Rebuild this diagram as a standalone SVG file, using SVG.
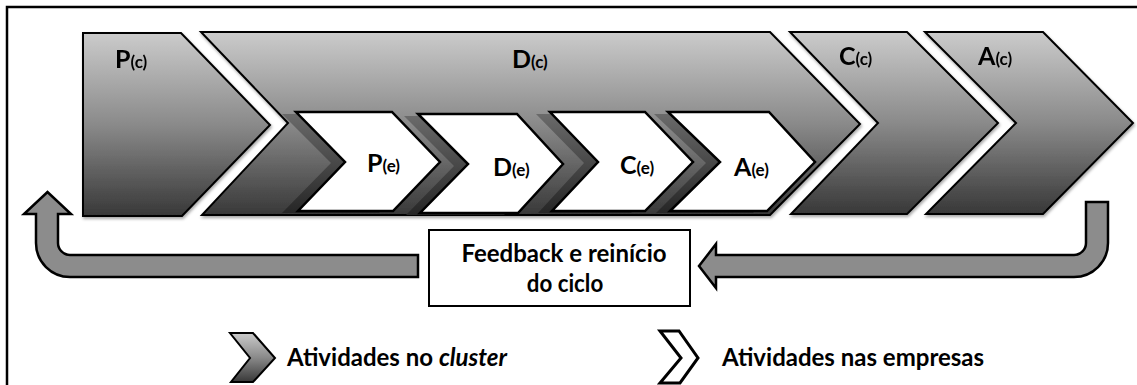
<svg xmlns="http://www.w3.org/2000/svg" width="1137" height="385" viewBox="0 0 1137 385">
  <defs>
    <linearGradient id="gray" x1="0" y1="0" x2="0" y2="1">
      <stop offset="0" stop-color="#cbcbcb"/>
      <stop offset="0.5" stop-color="#8a8a8a"/>
      <stop offset="1" stop-color="#383838"/>
    </linearGradient>
    <linearGradient id="band" x1="0" y1="0" x2="0" y2="1">
      <stop offset="0" stop-color="#6a6a6a"/>
      <stop offset="1" stop-color="#262626"/>
    </linearGradient>
    <filter id="soft" x="-5%" y="-5%" width="115%" height="120%">
      <feDropShadow dx="1" dy="2" stdDeviation="1.5" flood-color="#000" flood-opacity="0.35"/>
    </filter>
    <style>
      .big { fill: url(#gray); stroke: #000; stroke-width: 2; stroke-linejoin: miter; }
      .shadow { fill: url(#band); stroke: none; }
      .inner { fill: #fff; stroke: #000; stroke-width: 2.5; }
      .arrow { fill: #8c8c8c; stroke: #000; stroke-width: 2.5; stroke-linejoin: miter; }
      .frame { fill: none; stroke: #000; stroke-width: 2.5; }
      text { font-family: "Lato", "Liberation Sans", Arial, sans-serif; font-weight: 700; fill: #000; }
      .L { font-size: 25px; }
      .s { font-size: 17px; }
      .t { font-size: 24px; }
    </style>
  </defs>

  <rect width="1137" height="385" fill="#fff"/>
  <path class="frame" d="M 7 385 L 7 7 L 1137 7"/>

  <g id="P_c" filter="url(#soft)">
    <polygon class="big" points="83,33 181,33 270,125 182,216 83,216"/>
    <text x="115" y="68"><tspan class="L">P</tspan><tspan class="s">(c)</tspan></text>
  </g>

  <g id="D_c">
    <polygon class="big" filter="url(#soft)" points="201,32 770,32 860,124 770,215 202,215 288,123"/>
    <text x="512" y="68"><tspan class="L">D</tspan><tspan class="s">(c)</tspan></text>
    <g id="P_e">
      <polygon class="shadow" points="282,114 379,114 427,163 379,213 282,213 331,163"/>
      <polygon class="inner" points="296,112 392,112 440,162 393,211 298,211 345,162"/>
      <text x="367" y="172"><tspan class="L">P</tspan><tspan class="s">(e)</tspan></text>
    </g>
    <g id="D_e">
      <polygon class="shadow" points="404,116 503,116 549,166 504,215 406,215 454,166"/>
      <polygon class="inner" points="418,114 517,114 563,164 518,213 420,213 468,164"/>
      <text x="493" y="176"><tspan class="L">D</tspan><tspan class="s">(e)</tspan></text>
    </g>
    <g id="C_e">
      <polygon class="shadow" points="536,114 631,114 679,163 631,213 538,213 584,163"/>
      <polygon class="inner" points="550,112 645,112 693,162 645,211 552,211 598,162"/>
      <text x="620" y="174"><tspan class="L">C</tspan><tspan class="s">(e)</tspan></text>
    </g>
    <g id="A_e">
      <polygon class="shadow" points="654,114 755,114 801,163 753,213 656,213 706,163"/>
      <polygon class="inner" points="668,112 769,112 815,162 767,211 670,211 720,162"/>
      <text x="734" y="176"><tspan class="L">A</tspan><tspan class="s">(e)</tspan></text>
    </g>
  </g>

  <g id="C_c" filter="url(#soft)">
    <polygon class="big" points="790,32 907,32 998,123 907,214 791,214 878,123"/>
    <text x="839" y="65"><tspan class="L">C</tspan><tspan class="s">(c)</tspan></text>
  </g>

  <g id="A_c" filter="url(#soft)">
    <polygon class="big" points="925,32 1043,32 1133,123 1043,214 926,214 1016,123"/>
    <text x="978" y="65"><tspan class="L">A</tspan><tspan class="s">(c)</tspan></text>
  </g>

  <g id="feedback">
    <rect x="429" y="230" width="261" height="76" fill="#fff" stroke="#000" stroke-width="2"/>
    <text class="t" x="564" y="262" text-anchor="middle">Feedback e reinício</text>
    <text class="t" transform="translate(565,292) scale(0.93,1)" x="0" y="0" text-anchor="middle">do ciclo</text>
  </g>

  <g id="connectors">
    <path class="arrow" d="M 1086 202 L 1108 202 L 1108 243 A 34 34 0 0 1 1074 277 L 716 277 L 716 288 L 699 266 L 716 244 L 716 255 L 1074 255 A 12 12 0 0 0 1086 243 Z"/>
    <path class="arrow" d="M 418 255 L 70 255 A 12 12 0 0 1 58 243 L 58 214 L 71 214 L 47.5 192 L 24 214 L 36 214 L 36 243 A 34 34 0 0 0 70 277 L 418 277 Z"/>
  </g>

  <g id="legend_cluster">
    <polygon class="big" points="230,333 253,333 275,358 253,382 231,382 250,358"/>
    <text class="t" x="287" y="366">Atividades no <tspan font-style="italic">cluster</tspan></text>
  </g>

  <g id="legend_empresas">
    <polygon fill="#fff" stroke="#000" stroke-width="3" points="660,331 679,331 698,358 680,383 660,383 681,358"/>
    <text class="t" x="722" y="366">Atividades nas empresas</text>
  </g>
</svg>
